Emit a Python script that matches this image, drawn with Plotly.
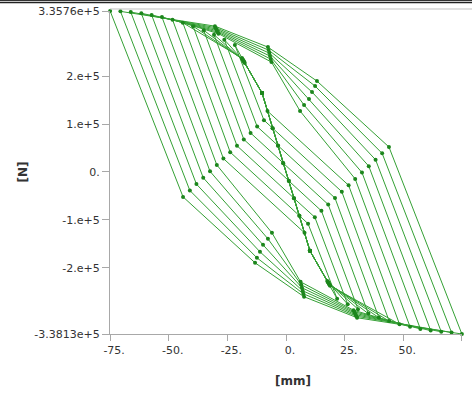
import plotly.graph_objects as go

# --- data (displacement in mm, force in N) ---
# top-left start of each loop (upper envelope)
T_x = [-75.0, -70.6, -66.2, -61.7, -57.3, -52.9, -48.4, -44.0, -39.6, -35.1, -30.7, -26.3, -21.8]
T_y = [335760, 335000, 333540, 331040, 327490, 323120, 317700, 311250, 303960, 295620, 286250, 276040, 264580]
# left kinks
L_x = [-43.9, -41.0, -38.2, -35.3, -32.4, -29.5, -26.7, -23.8, -20.9, -18.0, -15.1, -12.3, -9.4]
L_y = [-52080, -38750, -25420, -12080, 1250, 14580, 27920, 41250, 54580, 67920, 81250, 94580, 107920]
# lower kinks
B_x = [-13.2, -12.4, -11.1, -9.8, -7.7, -6.0, 7.9, 5.7, 3.4, 1.2, -1.2, -3.4, -5.7]
B_y = [-189580, -179170, -166670, -152080, -139580, -127080, -127080, -91250, -54790, -18330, 18750, 55000, 91250]
# bottom-right end of each loop (lower envelope)
R_x = [75.0, 70.6, 66.2, 61.7, 57.3, 52.9, 48.4, 44.0, 39.6, 35.1, 30.7, 26.3, 21.8]
R_y = [-338130, -335000, -333540, -331040, -327490, -323120, -317700, -311250, -303960, -295620, -286250, -276040, -264580]
# right kinks
K_x = [43.9, 41.0, 38.2, 35.3, 32.4, 29.5, 26.7, 23.8, 20.9, 18.0, 15.1, 12.3, 9.4]
K_y = [52080, 38750, 25420, 12080, -1250, -14580, -27920, -41250, -54580, -67920, -81250, -94580, -107920]
# upper kinks
U_x = [13.2, 12.4, 11.1, 9.8, 7.7, 6.0, -7.9, -5.7, -3.4, -1.2, 1.2, 3.4, 5.7]
U_y = [189580, 179170, 166670, 152080, 139580, 127080, 127080, 91250, 54790, 18330, -18750, -55000, -91250]
# intermediate points on the outer upper / lower envelopes (outer 6 loops)
A_x = [-7.7, -7.4, -7.1, -6.8, -6.5, -6.2]
A_y = [260410, 254170, 247920, 241670, 235420, 229170]
C_x = [-30.3, -30.0, -29.7, -29.4, -29.1, -28.8]
C_y = [304170, 301040, 297920, 294790, 291670, 288540]
Ap_x = [7.7, 7.4, 7.1, 6.8, 6.5, 6.2]
Ap_y = [-260410, -254170, -247920, -241670, -235420, -229170]
Cp_x = [30.3, 30.0, 29.7, 29.4, 29.1, 28.8]
Cp_y = [-304170, -301040, -297920, -294790, -291670, -288540]
# inner loops: S-curve ends and envelope points
S_top = (-10.2, 164580)
S_bot = (10.2, -164580)
G_x = [-18.8, -18.6, -18.4, -18.2, -18.0, -17.8, -17.6]
G_y = [237500, 235830, 234170, 232500, 230830, 229170, 227500]
Gp_x = [18.8, 18.6, 18.4, 18.2, 18.0, 17.8, 17.6]
Gp_y = [-237500, -235830, -234170, -232500, -230830, -229170, -227500]

# --- assemble the continuous load path ---
xs, ys = [], []
n = len(T_x)
n_outer = len(A_x)
for i in range(n):
    xs += [T_x[i], L_x[i], B_x[i]]
    ys += [T_y[i], L_y[i], B_y[i]]
    if i < n_outer:
        xs += [Ap_x[i], Cp_x[i]]
        ys += [Ap_y[i], Cp_y[i]]
    else:
        j = i - n_outer
        xs += [S_bot[0], Gp_x[j]]
        ys += [S_bot[1], Gp_y[j]]
    xs += [R_x[i], K_x[i], U_x[i]]
    ys += [R_y[i], K_y[i], U_y[i]]
    if i < n_outer:
        xs += [A_x[i], C_x[i]]
        ys += [A_y[i], C_y[i]]
    else:
        j = i - n_outer
        xs += [S_top[0], G_x[j]]
        ys += [S_top[1], G_y[j]]

x_tickvals = [-75, -50, -25, 0, 25, 50, 75]
x_ticktext = ["-75.", "-50.", "-25.", "0.", "25.", "50.", "80."]
y_tickvals = [-338130, -200000, -100000, 0, 100000, 200000, 335760]
y_ticktext = ["-3.3813e+5", "-2.e+5", "-1.e+5", "0.", "1.e+5", "2.e+5", "3.3576e+5"]

fig = go.Figure()
fig.add_trace(go.Scatter(
    x=xs, y=ys, mode="lines+markers",
    line=dict(color="#34a034", width=1),
    marker=dict(color="#1c861c", size=4),
    cliponaxis=False, hoverinfo="skip"))

font = dict(family="DejaVu Sans", size=11, color="#333333")
fig.update_layout(
    width=472, height=394,
    margin=dict(l=110, r=10, t=11, b=60, pad=0),
    plot_bgcolor="white", paper_bgcolor="white",
    showlegend=False,
    xaxis=dict(range=[-75.05, 75.05], showgrid=False, zeroline=False,
               showline=True, linecolor="#a8a8a8", linewidth=1,
               ticks="outside", ticklen=6, tickcolor="#a8a8a8",
               tickvals=x_tickvals, ticktext=x_ticktext, tickfont=font,
               ticklabelshift=4, automargin=False),
    yaxis=dict(range=[-338140, 335770], showgrid=False, zeroline=False,
               showline=True, linecolor="#a8a8a8", linewidth=1,
               ticks="outside", ticklen=7, tickcolor="#a8a8a8",
               tickvals=y_tickvals, ticktext=y_ticktext, tickfont=font,
               automargin=False),
    annotations=[
        dict(text="<b>[N]</b>", xref="paper", yref="paper", x=-0.25, y=0.5,
             xanchor="center", yanchor="middle",
             textangle=-90, showarrow=False, font=dict(family="DejaVu Sans", size=12, color="#333333")),
        dict(text="<b>[mm]</b>", xref="paper", yref="paper", x=0.52, y=-0.1455,
             xanchor="center", yanchor="middle",
             showarrow=False, font=dict(family="DejaVu Sans", size=12, color="#333333")),
    ],
    shapes=[
        dict(type="line", xref="paper", yref="paper", x0=-0.3125, x1=1.0284, y0=1.0325, y1=1.0325,
             line=dict(color="#333333", width=1)),
        dict(type="line", xref="paper", yref="paper", x0=-0.3125, x1=1.0284, y0=1.0263, y1=1.0263,
             line=dict(color="#222222", width=1.5)),
        dict(type="line", xref="paper", yref="paper", x0=0, x1=1.0284, y0=1.0062, y1=1.0062,
             line=dict(color="#c0c0c0", width=1)),
    ],
)

fig.write_html("out.html")
